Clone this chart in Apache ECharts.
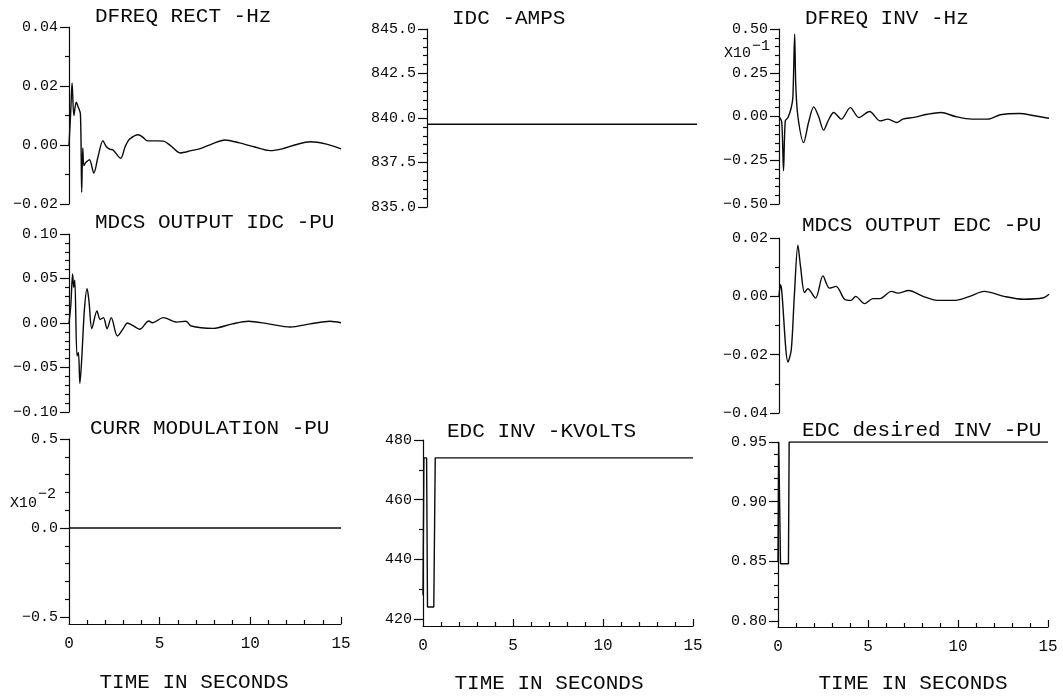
<!DOCTYPE html>
<html>
<head>
<meta charset="utf-8">
<script src="https://cdn.jsdelivr.net/npm/echarts@6/dist/echarts.min.js"></script>
<style>
html,body{margin:0;padding:0;background:#fff;}
#c{width:1063px;height:697px;}
</style>
</head>
<body>
<div id="c"></div>
<script>
// ---- data (time in seconds, values as read on each axis) ----
var dfreqRectT = [0,0.1,0.17,0.27,0.4,0.5,0.63,0.7,0.76,0.82,0.92,1.0,1.13,1.37,1.6,1.87,2.05,2.24,2.43,2.85,3.1,3.35,3.82,4.1,4.28,4.7,5.2,5.6,6.13,6.74,7.2,7.9,8.6,9.4,10.2,11.1,11.76,12.5,13.3,14.2,15];
var dfreqRectV = [0,0.012,0.021,0.010,0.0145,0.013,0.0105,-0.016,-0.001,-0.007,-0.006,-0.0055,-0.005,-0.0095,-0.004,0.0015,-0.0005,-0.0014,-0.0017,-0.0045,-0.0005,0.002,0.0035,0.0025,0.0015,0.0014,0.0013,-0.0002,-0.0027,-0.0019,-0.0013,0.0004,0.0017,0.0007,-0.0006,-0.0019,-0.0013,0.0001,0.0011,0.0003,-0.0013];

var mdcsIdcT = [0,0.1,0.2,0.26,0.32,0.44,0.52,0.6,0.7,0.85,1.0,1.1,1.26,1.54,1.72,1.9,2.1,2.33,2.67,3.0,3.22,3.5,3.9,4.4,4.6,5.2,5.95,6.45,6.74,7.96,9.0,9.9,11.0,12.2,13.3,14.4,15];
var mdcsIdcV = [0,0.02,0.055,0.04,0.048,-0.037,-0.033,-0.068,-0.041,0.015,0.0386,0.025,-0.0064,0.0135,0.004,0.006,-0.0064,0.006,-0.0146,-0.006,0.0,-0.0026,-0.007,0.0022,0.0003,0.006,0.001,0.002,-0.0034,-0.006,-0.001,0.002,-0.001,-0.0045,-0.001,0.002,0.0003];

var currModT = [0,15];
var currModV = [0,0];            // x10^-2 PU

var idcT = [0,15];
var idcV = [839.65,839.65];      // AMPS

var edcInvT = [0,0.05,0.2,0.25,0.6,0.68,15];
var edcInvV = [428,474,474,424,424,474,474];   // KVOLTS

var dfreqInvT = [0,0.15,0.25,0.35,0.5,0.68,0.77,0.87,0.93,1.05,1.37,1.65,1.93,2.2,2.48,2.75,3.04,3.46,3.96,4.44,5.03,5.62,6.05,6.55,6.88,7.5,8.25,9.0,9.8,10.7,11.6,12.3,13.35,14.2,15];
var dfreqInvV = [0,-0.03,-0.31,-0.025,-0.006,0.05,0.11,0.47,0.185,0.0,-0.149,-0.03,0.055,0.0,-0.078,-0.02,0.023,-0.015,0.051,-0.006,0.029,-0.025,-0.015,-0.034,-0.015,-0.005,0.013,0.023,0.0,-0.015,-0.015,0.01,0.017,0.004,-0.01]; // x10^-1 Hz

var mdcsEdcT = [0,0.08,0.15,0.5,0.68,0.85,1.05,1.2,1.42,1.6,2.03,2.44,2.8,3.17,3.64,4.0,4.26,4.75,5.22,5.6,6.24,6.6,7.2,8.0,8.8,9.8,10.6,11.4,12.5,13.6,14.7,15];
var mdcsEdcV = [0,0.004,0.002,-0.0225,-0.0185,0.0,0.0175,0.01,0.0013,0.0026,-0.0006,0.007,0.0028,0.0034,-0.001,-0.0014,0.0,-0.0025,-0.0008,-0.0008,0.0017,0.0011,0.002,0.0,-0.0014,-0.0014,0.0,0.0017,0.0,-0.001,-0.0005,0.0007];

var edcDesT = [0,0.04,0.1,0.14,0.58,0.62,15];
var edcDesV = [0.85,0.95,0.95,0.848,0.848,0.95,0.95];

var titles = ['DFREQ RECT -Hz','MDCS OUTPUT IDC -PU','CURR MODULATION -PU','IDC -AMPS','EDC INV -KVOLTS','DFREQ INV -Hz','MDCS OUTPUT EDC -PU','EDC desired INV -PU'];
var xTitle = 'TIME IN SECONDS';

// ---- panel layout ----
var FONT = 'Liberation Mono';
var panels = [
  {t:dfreqRectT, v:dfreqRectV, g:{left:69,top:27,width:272,height:177}, min:-0.02,max:0.04,iv:0.02,ms:2,dec:2,bottom:false,sm:0.3},
  {t:mdcsIdcT,  v:mdcsIdcV,  g:{left:69,top:234,width:272,height:178}, min:-0.10,max:0.10,iv:0.05,ms:5,dec:2,bottom:false,sm:0.3},
  {t:currModT,  v:currModV,  g:{left:69,top:439,width:272,height:178}, min:-0.5,max:0.5,iv:0.5,ms:5,dec:1,bottom:true,off:7},
  {t:idcT,      v:idcV,      g:{left:427,top:29,width:270,height:178}, min:835,max:845,iv:2.5,ms:5,dec:1,bottom:false},
  {t:edcInvT,   v:edcInvV,   g:{left:423,top:440,width:270,height:179}, min:420,max:480,iv:20,ms:2,dec:0,bottom:true,off:7},
  {t:dfreqInvT, v:dfreqInvV, g:{left:779,top:29,width:270,height:175}, min:-0.5,max:0.5,iv:0.25,ms:5,dec:2,bottom:false,sm:0.3},
  {t:mdcsEdcT,  v:mdcsEdcV,  g:{left:779,top:238,width:270,height:175}, min:-0.04,max:0.02,iv:0.02,ms:2,dec:2,bottom:false,sm:0.3},
  {t:edcDesT,   v:edcDesV,   g:{left:778,top:442,width:270,height:179}, min:0.80,max:0.95,iv:0.05,ms:5,dec:2,bottom:true,off:6}
];

var grids=[], xAxes=[], yAxes=[], series=[];
var ink = '#0a0a0a';
panels.forEach(function(p,i){
  grids.push({left:p.g.left, top:p.g.top, width:p.g.width, height:p.g.height, containLabel:false});
  xAxes.push({
    type:'value', gridIndex:i, min:0, max:15, interval:5, show:p.bottom, offset:p.off||0,
    axisLine:{show:true, onZero:false, lineStyle:{color:ink,width:1.2}},
    axisTick:{show:true, inside:true, length:7, lineStyle:{color:ink,width:1.2}},
    minorTick:{show:true, splitNumber:5, length:4, lineStyle:{color:ink,width:1.2}},
    splitLine:{show:false},
    axisLabel:{show:true, margin:12, color:ink, fontFamily:FONT, fontSize:16}
  });
  yAxes.push({
    type:'value', gridIndex:i, min:p.min, max:p.max, interval:p.iv,
    axisLine:{show:true, onZero:false, lineStyle:{color:ink,width:1.2}},
    axisTick:{show:true, inside:false, length:9, lineStyle:{color:ink,width:1.2}},
    minorTick:{show:true, splitNumber:p.ms, length:4, lineStyle:{color:ink,width:1.2}},
    splitLine:{show:false},
    axisLabel:{show:true, margin:11, color:ink, fontFamily:FONT, fontSize:15,
      formatter:(function(d){return function(val){var s=Math.abs(val).toFixed(d); if (Math.abs(val)<1e-9) return (0).toFixed(d); return (val<0?'\u2212':'')+s;};})(p.dec)}
  });
  var data = p.t.map(function(tt,k){return [tt,p.v[k]];});
  series.push({type:'line', xAxisIndex:i, yAxisIndex:i, data:data, showSymbol:false, symbol:'none',
    smooth:p.sm||false,
    lineStyle:{color:ink,width:1.4}, animation:false, silent:true, clip:true});
});

var graphics = [
  {type:'text', x:95, y:16, silent:true, style:{text:titles[0], fill:ink, font:'21px "'+FONT+'"', textVerticalAlign:'middle'}},
  {type:'text', x:95, y:222, silent:true, style:{text:titles[1], fill:ink, font:'21px "'+FONT+'"', textVerticalAlign:'middle'}},
  {type:'text', x:90, y:428, silent:true, style:{text:titles[2], fill:ink, font:'21px "'+FONT+'"', textVerticalAlign:'middle'}},
  {type:'text', x:452, y:18, silent:true, style:{text:titles[3], fill:ink, font:'21px "'+FONT+'"', textVerticalAlign:'middle'}},
  {type:'text', x:447, y:431, silent:true, style:{text:titles[4], fill:ink, font:'21px "'+FONT+'"', textVerticalAlign:'middle'}},
  {type:'text', x:805, y:18, silent:true, style:{text:titles[5], fill:ink, font:'21px "'+FONT+'"', textVerticalAlign:'middle'}},
  {type:'text', x:802, y:225, silent:true, style:{text:titles[6], fill:ink, font:'21px "'+FONT+'"', textVerticalAlign:'middle'}},
  {type:'text', x:802, y:430, silent:true, style:{text:titles[7], fill:ink, font:'21px "'+FONT+'"', textVerticalAlign:'middle'}},
  {type:'text', x:194, y:682, silent:true, style:{text:xTitle, fill:ink, font:'21px "'+FONT+'"', textAlign:'center', textVerticalAlign:'middle'}},
  {type:'text', x:549, y:683, silent:true, style:{text:xTitle, fill:ink, font:'21px "'+FONT+'"', textAlign:'center', textVerticalAlign:'middle'}},
  {type:'text', x:913, y:683, silent:true, style:{text:xTitle, fill:ink, font:'21px "'+FONT+'"', textAlign:'center', textVerticalAlign:'middle'}},
  {type:'text', x:10, y:503, silent:true, style:{text:'X10', fill:ink, font:'15px "'+FONT+'"', textVerticalAlign:'middle'}},
  {type:'text', x:38, y:494, silent:true, style:{text:'\u22122', fill:ink, font:'15px "'+FONT+'"', textVerticalAlign:'middle'}},
  {type:'text', x:724, y:53, silent:true, style:{text:'X10', fill:ink, font:'15px "'+FONT+'"', textVerticalAlign:'middle'}},
  {type:'text', x:752, y:46, silent:true, style:{text:'\u22121', fill:ink, font:'15px "'+FONT+'"', textVerticalAlign:'middle'}}
];

var chart = echarts.init(document.getElementById('c'), null, {renderer:'canvas'});
chart.setOption({
  animation:false,
  backgroundColor:'#fff',
  grid:grids, xAxis:xAxes, yAxis:yAxes, series:series,
  graphic:graphics
});
</script>
</body>
</html>
